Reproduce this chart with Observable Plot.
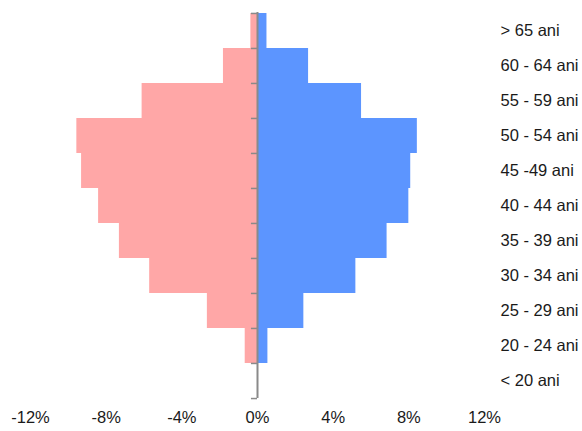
<!DOCTYPE html>
<html>
<head>
<meta charset="utf-8">
<script src="https://cdn.jsdelivr.net/npm/d3@7"></script>
<script src="https://cdn.jsdelivr.net/npm/@observablehq/plot@0.6"></script>
<style>
  html, body { margin: 0; padding: 0; background: #fff; }
  #chart svg { display: block; }
</style>
</head>
<body>
<div id="chart"></div>
<script>
// Age groups, top to bottom
const categories = ["> 65 ani", "60 - 64 ani", "55 - 59 ani", "50 - 54 ani", "45 -49 ani",
  "40 - 44 ani", "35 - 39 ani", "30 - 34 ani", "25 - 29 ani", "20 - 24 ani", "< 20 ani"];
// Left (pink) series, percent
const femaleValues = [0.35, 1.8, 6.1, 9.55, 9.3, 8.4, 7.3, 5.7, 2.65, 0.65, 0];
// Right (blue) series, percent
const maleValues = [0.5, 2.7, 5.5, 8.45, 8.1, 8.0, 6.85, 5.2, 2.45, 0.55, 0];
// X tick labels
const xTicks = [-12, -8, -4, 0, 4, 8, 12];

const W = 582, H = 431, mTop = 12, mBottom = 33, mLeft = 30, mRight = 98;
const bw = (H - mTop - mBottom) / categories.length;

const female = categories.map((c, i) => ({age: c, value: -femaleValues[i]}));
const male = categories.map((c, i) => ({age: c, value: maleValues[i]}));

const chart = Plot.plot({
  width: W,
  height: H,
  marginTop: mTop,
  marginBottom: mBottom,
  marginLeft: mLeft,
  marginRight: mRight,
  style: {fontFamily: "'Liberation Sans', Arial, sans-serif", fontSize: "16.5px", color: "#1a1a1a", background: "#fff"},
  x: {domain: [-12, 12], ticks: xTicks, tickFormat: d => `${d}%`, tickSize: 0, tickPadding: 13, label: null},
  y: {domain: categories, padding: 0, label: null, axis: null},
  marks: [
    Plot.barX(female, {x: "value", y: "age", fill: "#FFA7A7", inset: 0}),
    Plot.barX(male, {x: "value", y: "age", fill: "#5C95FF", inset: 0}),
    Plot.axisY({anchor: "right", tickSize: 0, tickPadding: 16, textAnchor: "start", label: null}),
    Plot.ruleX([0], {stroke: "#8a8a8a", strokeWidth: 2}),
    Plot.ruleY(categories, {y: d => d, x1: -0.32, x2: 0, dy: -bw / 2, stroke: "#8a8a8a", strokeWidth: 1.5}),
    Plot.ruleY(categories.slice(-1), {y: d => d, x1: -0.32, x2: 0, dy: bw / 2, stroke: "#8a8a8a", strokeWidth: 1.5})
  ]
});
document.getElementById("chart").appendChild(chart);
</script>
</body>
</html>
